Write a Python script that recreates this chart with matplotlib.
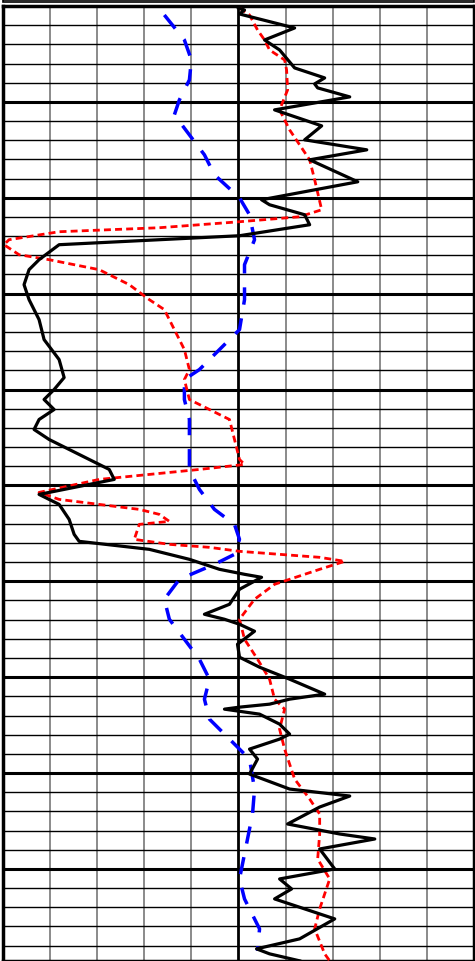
import matplotlib.pyplot as plt
from matplotlib.patches import Rectangle
import numpy as np

# curves digitised as (pixel x, pixel y) then scaled to track units
black_px = [(239,8),(245,10),(240,14),(295,28),(265,40),(280,50),(295,68),(325,78),(315,84),(318,88),(350,97),(275,110),(322,126),(305,140),(367,150),(310,160),(358,182),(262,200),(270,205),(305,215),(310,225),(240,236),(60,245),(40,260),(30,270),(25,285),(30,300),(40,320),(45,340),(60,360),(65,378),(55,390),(45,400),(55,410),(40,420),(35,430),(50,440),(80,455),(110,470),(115,480),(90,485),(40,495),(60,505),(70,520),(75,535),(80,542),(150,550),(190,560),(220,570),(245,575),(262,578),(240,590),(230,605),(205,615),(225,620),(240,625),(255,632),(238,645),(240,658),(260,668),(290,680),(325,695),(290,700),(270,705),(240,708),(225,710),(260,715),(280,725),(290,735),(280,740),(250,750),(258,760),(250,775),(290,790),(350,797),(320,808),(288,825),(340,835),(375,840),(320,850),(335,870),(280,880),(292,890),(275,900),(335,920),(300,940),(257,950),(270,955),(300,962)]
red_px = [(240,8),(250,15),(258,30),(265,40),(270,50),(285,60),(287,70),(288,90),(280,110),(290,130),(300,145),(310,160),(315,180),(322,210),(300,217),(240,222),(160,228),(60,232),(10,240),(5,245),(20,255),(50,260),(100,270),(130,285),(150,300),(165,310),(175,330),(185,350),(190,370),(185,380),(190,400),(210,410),(230,420),(235,440),(240,460),(245,465),(200,470),(100,480),(40,493),(60,500),(100,505),(140,510),(160,515),(170,522),(140,525),(135,540),(170,545),(210,548),(240,552),(280,555),(320,558),(345,562),(320,570),(275,585),(255,600),(240,620),(245,640),(258,660),(270,680),(275,700),(285,710),(280,730),(285,750),(295,780),(310,800),(320,815),(320,835),(318,860),(330,880),(320,910),(315,930),(325,955),(330,962)]
blue_px = [(165,15),(185,40),(192,60),(190,80),(180,100),(175,115),(190,135),(205,155),(215,175),(240,198),(250,215),(255,240),(245,265),(245,300),(240,330),(215,355),(200,370),(185,380),(185,400),(190,420),(190,445),(190,470),(200,490),(215,510),(235,525),(240,540),(235,555),(215,565),(180,580),(165,600),(170,620),(185,640),(200,660),(210,680),(205,700),(210,720),(230,740),(250,760),(255,790),(253,815),(240,880),(245,900),(260,930),(258,952)]

def to_track(pts):
    a = np.array(pts, dtype=float)
    return (a[:, 0] - 4) / 47.0, (a[:, 1] - 6) / 19.2

W, H = 475, 962
fig = plt.figure(figsize=(W / 100, H / 100), dpi=100)
ax = fig.add_axes([3 / W, 0, 471 / W, 955 / H])
ax.set_xlim(0, 10)
ax.set_ylim(49.8, 0)
ax.set_xticks([]); ax.set_yticks([])
for s in ax.spines.values():
    s.set_linewidth(2.5)

for i in range(1, 10):
    ax.axvline(i, color='black' if i == 5 else '#777', lw=2 if i == 5 else 1.2, zorder=1)
for j in range(1, 50):
    if j % 5 == 0:
        ax.axhline(j, color='black', lw=2.2, zorder=1)
    else:
        ax.axhline(j, color='black', lw=1, zorder=1)

x, y = to_track(blue_px)
ax.plot(x, y, color='blue', lw=2.5, dashes=(5, 4), zorder=3)
x, y = to_track(red_px)
ax.plot(x, y, color='red', lw=2, dashes=(2.5, 1.5), zorder=3)
x, y = to_track(black_px)
ax.plot(x, y, color='black', lw=2.3, zorder=4, solid_joinstyle='round')

# thin header box above the track
fig.patches.append(Rectangle((3 / W, 1 - 3 / H), 471 / W, 2.5 / H, transform=fig.transFigure,
                             fill=False, edgecolor='black', lw=1.2))
fig.savefig('out.png', dpi=100)
